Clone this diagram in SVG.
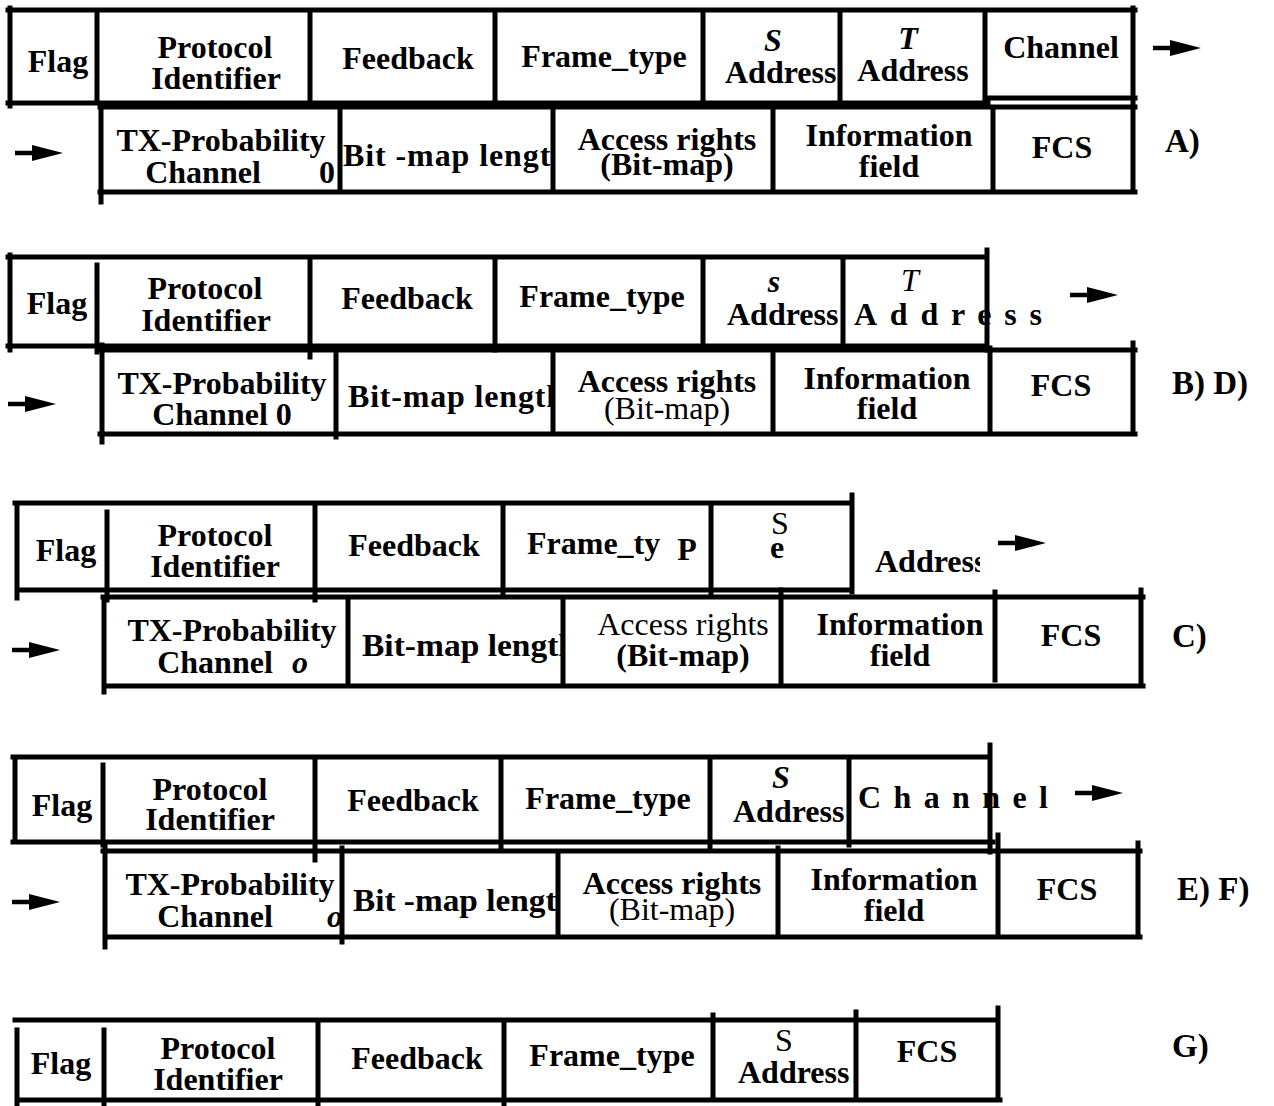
<svg xmlns="http://www.w3.org/2000/svg" width="1274" height="1106" viewBox="0 0 1274 1106">
<style>
.ln{fill:none;stroke:#000;stroke-width:5;stroke-linecap:square}
text{font-family:"Liberation Serif","Times New Roman",serif;font-size:32px;font-weight:bold;fill:#000}
.c{text-anchor:middle}
.it{font-style:italic}
.rg{font-weight:normal}
.lab{font-size:33px}
</style>
<defs>
<path id="arrow" d="M0,-2.2 H17 V-8 L48,0 L17,8 V2.2 H0 Z" fill="#000"/>
<clipPath id="cAS"><rect x="700" y="0" width="138" height="1106"/></clipPath>
<clipPath id="cAbm"><rect x="340" y="0" width="211" height="1106"/></clipPath>
<clipPath id="cBS"><rect x="703" y="0" width="138" height="1106"/></clipPath>
<clipPath id="cBbm"><rect x="336" y="0" width="215" height="1106"/></clipPath>
<clipPath id="cCaddr"><rect x="860" y="0" width="120" height="1106"/></clipPath>
<clipPath id="cCbm"><rect x="348" y="0" width="213" height="1106"/></clipPath>
<clipPath id="cDS"><rect x="710" y="0" width="137" height="1106"/></clipPath>
<clipPath id="cDbm"><rect x="342" y="0" width="214" height="1106"/></clipPath>
<clipPath id="cDo"><rect x="105" y="0" width="235" height="1106"/></clipPath>
<clipPath id="cGS"><rect x="713" y="0" width="141" height="1106"/></clipPath>
</defs>
<rect width="1274" height="1106" fill="#fff"/>

<!-- Frame A -->
<g id="frameA-upper">
<text class="c" x="58" y="72">Flag</text>
<text class="c" x="215" y="58">Protocol</text>
<text class="c" x="216" y="89">Identifier</text>
<text class="c" x="408" y="69">Feedback</text>
<text class="c" x="604" y="67">Frame_type</text>
<text class="c it" x="773" y="51">S</text>
<text x="725" y="83" clip-path="url(#cAS)">Address</text>
<text class="c it" x="908" y="49">T</text>
<text class="c" x="913" y="81">Address</text>
<text class="c" x="1061" y="58">Channel</text>
<path class="ln" d="M8,10 H1135 M10,8 V106 M8,103 H988 M985,98 H1135 M97,10 V103 M310,10 V103 M495,10 V103 M703,10 V103 M840,10 V103 M985,10 V103 M1133,8 V98"/>
</g>
<g id="frameA-lower">
<text class="c" x="221" y="151">TX-Probability</text>
<text class="c" x="203" y="183">Channel</text>
<text class="c" x="327" y="183">0</text>
<text x="343" y="166" textLength="226" lengthAdjust="spacing" clip-path="url(#cAbm)">Bit -map  length</text>
<text class="c" x="667" y="150">Access  rights</text>
<text class="c" x="667" y="175">(Bit-map)</text>
<text class="c" x="889" y="146">Information</text>
<text class="c" x="889" y="177">field</text>
<text class="c" x="1062" y="158">FCS</text>
<path class="ln" d="M100,107 H1135 M101,105 V202 M100,192 H1135 M340,107 V192 M553,107 V192 M773,107 V192 M993,107 V188 M1133,100 V190"/>
</g>
<text id="labelA" class="lab" x="1165" y="152">A)</text>

<!-- Frame B/D -->
<g id="frameB-upper">
<text class="c" x="57" y="314">Flag</text>
<text class="c" x="205" y="299">Protocol</text>
<text class="c" x="206" y="331">Identifier</text>
<text class="c" x="407" y="309">Feedback</text>
<text class="c" x="602" y="307">Frame_type</text>
<text class="c it" x="774" y="292">s</text>
<text x="727" y="325" clip-path="url(#cBS)">Address</text>
<text class="c it rg" x="910" y="291">T</text>
<text x="854" y="325" textLength="188" lengthAdjust="spacing">Address</text>
<path class="ln" d="M8,257 H987 M10,255 V350 M8,346 H987 M97,265 V352 M310,257 V357 M495,257 V350 M703,257 V346 M843,257 V346 M987,250 V350"/>
</g>
<g id="frameB-lower">
<text class="c" x="222" y="394">TX-Probability</text>
<text class="c" x="222" y="425">Channel  0</text>
<text x="348" y="407" textLength="216" lengthAdjust="spacing" clip-path="url(#cBbm)">Bit-map  length</text>
<text class="c" x="667" y="392">Access  rights</text>
<text class="c rg" x="667" y="419">(Bit-map)</text>
<text class="c" x="887" y="389">Information</text>
<text class="c" x="887" y="419">field</text>
<text class="c" x="1061" y="396">FCS</text>
<path class="ln" d="M100,350 H1135 M102,345 V442 M100,434 H1135 M336,350 V437 M553,348 V434 M773,350 V434 M990,348 V432 M1133,343 V432"/>
</g>
<text id="labelBD" class="lab" x="1172" y="394">B) D)</text>

<!-- Frame C -->
<g id="frameC-upper">
<text class="c" x="66" y="561">Flag</text>
<text class="c" x="215" y="546">Protocol</text>
<text class="c" x="215" y="577">Identifier</text>
<text class="c" x="414" y="556">Feedback</text>
<text x="527" y="554">Frame_ty</text>
<text class="c" x="687" y="560">P</text>
<text class="c rg" x="780" y="534">S</text>
<text class="c" x="777" y="558">e</text>
<text x="875" y="572" clip-path="url(#cCaddr)">Address</text>
<path class="ln" d="M15,503 H850 M17,507 V598 M17,590 H852 M107,512 V600 M315,503 V600 M503,503 V594 M711,503 V594 M852,495 V592"/>
</g>
<g id="frameC-lower">
<text class="c" x="232" y="641">TX-Probability</text>
<text class="c" x="215" y="673">Channel</text>
<text class="c it" x="300" y="673">o</text>
<text x="362" y="656" textLength="215" lengthAdjust="spacingAndGlyphs" clip-path="url(#cCbm)">Bit-map length</text>
<text class="c rg" x="683" y="635">Access  rights</text>
<text class="c" x="683" y="666">(Bit-map)</text>
<text class="c" x="900" y="635">Information</text>
<text class="c" x="900" y="666">field</text>
<text class="c" x="1071" y="646">FCS</text>
<path class="ln" d="M103,597 H1143 M104,597 V692 M104,686 H1143 M348,597 V686 M563,597 V686 M781,590 V686 M995,592 V680 M1141,590 V682"/>
</g>
<text id="labelC" class="lab" x="1172" y="647">C)</text>

<!-- Frame E/F -->
<g id="frameE-upper">
<text class="c" x="62" y="816">Flag</text>
<text class="c" x="210" y="800">Protocol</text>
<text class="c" x="210" y="830">Identifier</text>
<text class="c" x="413" y="811">Feedback</text>
<text class="c" x="608" y="809">Frame_type</text>
<text class="c it" x="781" y="788">S</text>
<text x="733" y="822" clip-path="url(#cDS)">Address</text>
<text x="858" y="808" textLength="190" lengthAdjust="spacing">Channel</text>
<path class="ln" d="M13,757 H988 M15,762 V842 M13,842 H993 M103,765 V845 M315,757 V860 M501,757 V850 M710,757 V850 M849,757 V845 M990,745 V852"/>
</g>
<g id="frameE-lower">
<text class="c" x="230" y="895">TX-Probability</text>
<text class="c" x="215" y="927">Channel</text>
<text class="it" x="327" y="927" clip-path="url(#cDo)">o</text>
<text x="353" y="911" textLength="222" lengthAdjust="spacingAndGlyphs" clip-path="url(#cDbm)">Bit -map  length</text>
<text class="c" x="672" y="894">Access  rights</text>
<text class="c rg" x="672" y="920">(Bit-map)</text>
<text class="c" x="894" y="890">Information</text>
<text class="c" x="894" y="921">field</text>
<text class="c" x="1067" y="900">FCS</text>
<path class="ln" d="M103,851 H1140 M105,845 V947 M105,937 H1140 M342,848 V942 M558,851 V937 M778,848 V937 M998,835 V937 M1138,843 V935"/>
</g>
<text id="labelEF" class="lab" x="1177" y="900">E) F)</text>

<!-- Frame G -->
<g id="frameG">
<text class="c" x="61" y="1074">Flag</text>
<text class="c" x="218" y="1059">Protocol</text>
<text class="c" x="218" y="1090">Identifier</text>
<text class="c" x="417" y="1069">Feedback</text>
<text class="c" x="612" y="1066">Frame_type</text>
<text class="c rg" x="784" y="1051">S</text>
<text x="738" y="1083" clip-path="url(#cGS)">Address</text>
<text class="c" x="927" y="1062">FCS</text>
<path class="ln" d="M15,1020 H998 M17,1030 V1105 M17,1100 H1000 M104,1030 V1105 M318,1025 V1105 M504,1020 V1105 M713,1015 V1100 M856,1012 V1097 M998,1008 V1097"/>
</g>
<text id="labelG" class="lab" x="1172" y="1057">G)</text>

<g id="connectors">
<use href="#arrow" x="1153" y="48"/>
<use href="#arrow" x="15" y="153"/>
<use href="#arrow" x="1070" y="295"/>
<use href="#arrow" x="8" y="404"/>
<use href="#arrow" x="998" y="543"/>
<use href="#arrow" x="12" y="650"/>
<use href="#arrow" x="1075" y="793"/>
<use href="#arrow" x="12" y="902"/>
</g>
</svg>
